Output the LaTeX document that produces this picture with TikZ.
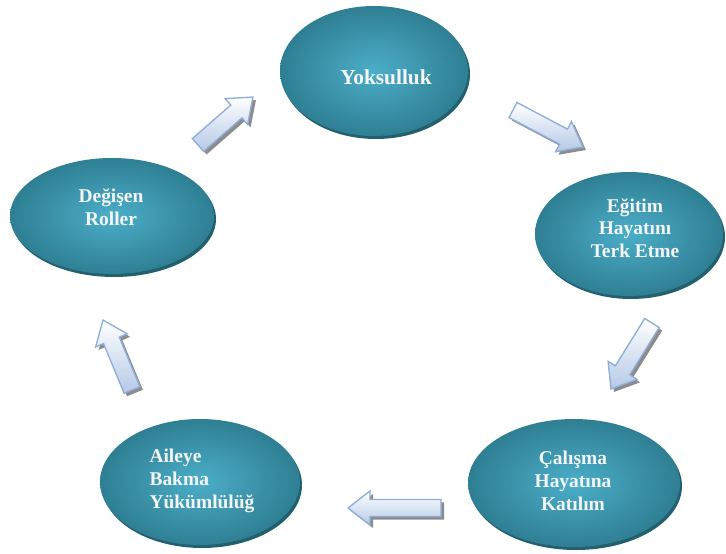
\documentclass[tikz,border=0pt]{standalone}
\usepackage{fontspec}
\setmainfont{Liberation Serif}
\usetikzlibrary{shapes.geometric,calc}
\definecolor{tealin}{HTML}{4BAEC8}
\definecolor{tealout}{HTML}{2F7F93}
\definecolor{tealshadow}{HTML}{23606F}
\definecolor{arrline}{HTML}{8EADD8}
\definecolor{arrfill}{HTML}{B4C9E6}
\definecolor{arrshadow}{HTML}{8C8C8C}
\definecolor{txt}{HTML}{F4F6F6}
\tikzset{
  bubble/.style={ellipse, inner sep=0pt, shading=radial, inner color=tealin, outer color=tealout},
  bubbleshadow/.style={ellipse, inner sep=0pt, fill=tealshadow},
  lbl/.style={text=txt, font=\bfseries\fontsize{14.6}{17}\selectfont, align=center, inner sep=0pt},
  blockarrow/.style={draw=arrline, line width=1pt, top color=white, bottom color=arrfill, line join=miter},
  blockshadow/.style={fill=arrshadow},
}
\newcommand\blockpath{(0pt,-6.4pt) -- ({\balen pt-16.5pt},-6.4pt) -- ({\balen pt-16.5pt},-12.8pt) -- (\balen pt,0pt) -- ({\balen pt-16.5pt},12.8pt) -- ({\balen pt-16.5pt},6.4pt) -- (0pt,6.4pt) -- cycle}
\newcommand\blockarr[2]{%
  \pgfmathanglebetweenpoints{\pgfpointanchor{#1}{center}}{\pgfpointanchor{#2}{center}}%
  \edef\baang{\pgfmathresult}%
  \pgfpointdiff{\pgfpointanchor{#1}{center}}{\pgfpointanchor{#2}{center}}%
  \pgfgetlastxy{\badx}{\bady}%
  \pgfmathveclen{\badx}{\bady}%
  \edef\balen{\pgfmathresult}%
  \begin{scope}[shift={($(#1)+(3,-3)$)}, rotate=\baang]
    \fill[blockshadow] \blockpath;
  \end{scope}
  \begin{scope}[shift={(#1)}, rotate=\baang]
    \draw[blockarrow] \blockpath;
  \end{scope}}
\begin{document}
\begin{tikzpicture}[x=0.75pt,y=0.75pt]
\useasboundingbox (0,0) rectangle (726,-554);
% shadows of bubbles
\node[bubbleshadow, minimum width=141pt, minimum height=97.5pt] (yoks) at (376,-74) {};
\node[bubbleshadow, minimum width=153pt, minimum height=87pt] (degs) at (114,-219) {};
\node[bubbleshadow, minimum width=141pt, minimum height=93pt] (egts) at (631,-237) {};
\node[bubbleshadow, minimum width=159pt, minimum height=96pt] (cals) at (576,-486) {};
\node[bubbleshadow, minimum width=150pt, minimum height=94.5pt] (ails) at (202,-485) {};
% bubbles
\node[bubble, minimum width=141pt, minimum height=97.5pt] (yok) at (374,-71) {};
\node[bubble, minimum width=153pt, minimum height=87pt] (deg) at (112,-216) {};
\node[bubble, minimum width=141pt, minimum height=93pt] (egt) at (629,-234) {};
\node[bubble, minimum width=159pt, minimum height=96pt] (cal) at (574,-483) {};
\node[bubble, minimum width=150pt, minimum height=94.5pt] (ail) at (200,-482) {};
% texts
\node[lbl, font=\bfseries\fontsize{16}{19}\selectfont] (tyok) at (386,-77) {Yoksulluk};
\node[lbl] (tdeg) at (111,-207) {Değişen\\Roller};
\node[lbl] (tegt) at (635,-228) {Eğitim\\Hayatını\\Terk Etme};
\node[lbl] (tcal) at (573,-481) {Çalışma\\Hayatına\\Katılım};
\node[lbl, align=left] (tail) at (202,-481) {Aileye\\Bakma\\Yükümlülüğ};
% arrow end points
\coordinate (a1t) at (198,-145); \coordinate (a1h) at (253,-97);
\coordinate (a2t) at (513,-110); \coordinate (a2h) at (583,-147);
\coordinate (a3t) at (652,-323); \coordinate (a3h) at (611,-389);
\coordinate (a4t) at (441,-508); \coordinate (a4h) at (348,-508);
\coordinate (a5t) at (132,-390); \coordinate (a5h) at (103,-320);
\blockarr{a1t}{a1h}
\blockarr{a2t}{a2h}
\blockarr{a3t}{a3h}
\blockarr{a4t}{a4h}
\blockarr{a5t}{a5h}
\end{tikzpicture}
\end{document}
